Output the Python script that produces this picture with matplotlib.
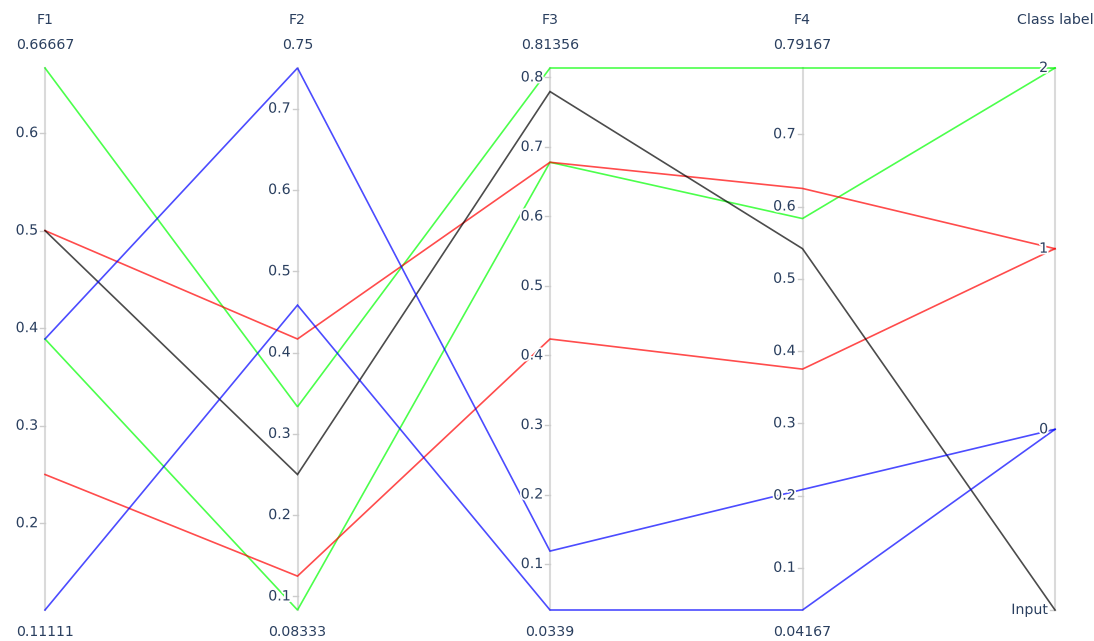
import numpy as np
import matplotlib.pyplot as plt
import matplotlib.patheffects as pe
from matplotlib.ticker import MultipleLocator

# data: one entry per sample (normalized feature values)
dims = ['F1', 'F2', 'F3', 'F4']
f1 = [0.66667, 0.38889, 0.5, 0.25, 0.5, 0.38889, 0.11111]
f2 = [0.33333, 0.08333, 0.41667, 0.125, 0.25, 0.75, 0.45833]
f3 = [0.81356, 0.67797, 0.67797, 0.42373, 0.77966, 0.11864, 0.0339]
f4 = [0.79167, 0.58333, 0.625, 0.375, 0.54167, 0.20833, 0.04167]
label = [2, 2, 1, 1, -1, 0, 0]

class_vals = [-1, 0, 1, 2]
class_text = ['Input', '0', '1', '2']
class_colors = {2: '#00ff00', 1: '#ff0000', 0: '#0000ff', -1: '#000000'}

W, H = 1094, 641
fig = plt.figure(figsize=(W / 100, H / 100), dpi=100)
left_px, right_px, top_px, bot_px = 45, 1055, 68, 610
ax = fig.add_axes([left_px / W, (H - bot_px) / H,
                   (right_px - left_px) / W, (bot_px - top_px) / H])
ax.set_xlim(0, 4)
ax.set_ylim(0, 1)
ax.axis('off')

font_color = '#2a3f5f'
fs = 10.2
halo = [pe.withStroke(linewidth=2.5, foreground='white')]
px_x = 4 / (right_px - left_px)  # data units per pixel along x

columns = [f1, f2, f3, f4]
ranges = [(min(c), max(c)) for c in columns]

# normalize every column to [0, 1] on its own axis
norm = []
for c, (lo, hi) in zip(columns, ranges):
    norm.append([(v - lo) / (hi - lo) for v in c])
cls_lo, cls_hi = min(class_vals), max(class_vals)
norm.append([(v - cls_lo) / (cls_hi - cls_lo) for v in label])
norm = np.array(norm).T

xs = np.arange(5)

# axis bars
for x in xs:
    ax.plot([x, x], [0, 1], color='#dadada', lw=1.5, zorder=1, clip_on=False)

# sample lines
for row, lab in zip(norm, label):
    ax.plot(xs, row, color=class_colors[lab], lw=1.2, alpha=0.7,
            zorder=2, clip_on=False, solid_joinstyle='miter')


def tick(x, y, text):
    ax.plot([x - 5 * px_x, x], [y, y], color='#cccccc', lw=1, zorder=1,
            clip_on=False)
    ax.annotate(text, (x, y), xytext=(-7, 0), textcoords='offset pixels',
                ha='right', va='center', fontsize=fs, color=font_color,
                path_effects=halo, zorder=5)


# numeric axes
for i, (name, (lo, hi)) in enumerate(zip(dims, ranges)):
    ticks = MultipleLocator(0.1).tick_values(lo, hi)
    for t in ticks:
        if lo - 1e-9 <= t <= hi + 1e-9:
            tick(i, (t - lo) / (hi - lo), f'{t:.1f}')
    ax.annotate(name, (i, 1), xytext=(0, 48), textcoords='offset pixels',
                ha='center', va='center', fontsize=fs, color=font_color)
    ax.annotate(f'{hi:.5g}', (i, 1), xytext=(0, 23), textcoords='offset pixels',
                ha='center', va='center', fontsize=fs, color=font_color)
    ax.annotate(f'{lo:.5g}', (i, 0), xytext=(0, -22), textcoords='offset pixels',
                ha='center', va='center', fontsize=fs, color=font_color)

# class label axis
for v, t in zip(class_vals, class_text):
    tick(4, (v - cls_lo) / (cls_hi - cls_lo), t)
ax.annotate('Class label', (4, 1), xytext=(0, 48), textcoords='offset pixels',
            ha='center', va='center', fontsize=fs, color=font_color)

fig.savefig('out.png', dpi=100)
